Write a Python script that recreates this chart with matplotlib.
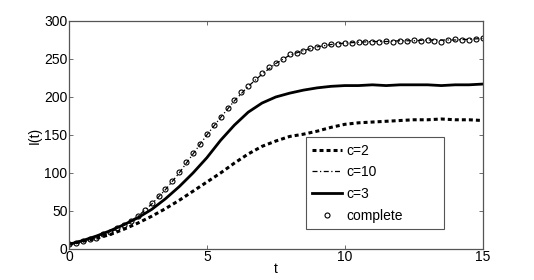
import numpy as np
import matplotlib
matplotlib.use("Agg")
from matplotlib import pyplot as plt

# line samples every 0.5 in t
t_line = np.arange(0, 15.01, 0.5)
c2 = [6, 10, 14, 19, 26, 34, 43, 53, 64, 76, 88, 100, 113, 125, 135, 142,
      148, 151, 155, 160, 164, 166, 167, 168, 169, 170, 170, 171, 170, 170, 169]
c10 = [6, 10, 15, 22, 31, 43, 59, 78, 100, 125, 150, 173, 195, 214, 230, 244,
       255, 261, 266, 269, 271, 272, 273, 273, 274, 274, 275, 275, 275, 276, 277]
c3 = [6, 11, 17, 24, 32, 41, 52, 66, 82, 100, 120, 143, 163, 180, 192, 200,
      205, 209, 212, 214, 215, 215, 216, 215, 216, 216, 216, 215, 216, 216, 217]

# complete graph, sampled every 0.25
t_comp = np.arange(0, 15.01, 0.25)
complete = [6, 8, 10, 13, 15, 19, 22, 27, 31,
            37, 43, 51, 60, 69, 79, 90, 101,
            114, 126, 138, 151, 163, 174, 186, 196,
            206, 215, 223, 231, 239, 245, 250, 256,
            258, 261, 264, 266, 268, 270, 270, 271,
            271, 272, 272, 273, 273, 274, 273, 274,
            274, 275, 274, 275, 274, 273, 275, 276,
            275, 275, 276, 277]

xticks = [0, 5, 10, 15]
yticks = [0, 50, 100, 150, 200, 250, 300]

plt.rcParams["font.family"] = ["Liberation Sans", "DejaVu Sans"]
plt.rcParams["font.size"] = 10

fig = plt.figure(figsize=(5.34, 2.8), dpi=100)
ax = fig.add_axes([0.129, 0.111, 0.775, 0.814])

ax.plot(t_line, c2, color="black", lw=2.2, linestyle=(0, (1.3, 1.0)), label="c=2")
ax.plot(t_line, c10, color="black", lw=0.9, linestyle=(0, (4, 2, 1, 2)), label="c=10")
ax.plot(t_line, c3, color="black", lw=2.0, label="c=3")
ax.plot(t_comp, complete, linestyle="none", marker="o", markersize=3.6,
        markerfacecolor="none", markeredgecolor="black", markeredgewidth=0.8,
        label="complete")

ax.set_xlim(0, 15)
ax.set_ylim(0, 300)
ax.set_xticks(xticks)
ax.set_yticks(yticks)
ax.tick_params(direction="in", top=True, right=True, length=3, width=0.6,
               color="#555555", labelsize=10, pad=1)
for side in ["left", "right", "top", "bottom"]:
    ax.spines[side].set_color("#555555")
    ax.spines[side].set_linewidth(0.9)

ax.set_xlabel("t", fontsize=10, labelpad=-2)
ax.set_ylabel("I(t)", fontsize=10, labelpad=2)

# MATLAB-style legend box, wider than its contents
leg = ax.legend(loc="lower left", bbox_to_anchor=(0.572, 0.088, 0.334, 0.377),
                mode="expand", fancybox=False, edgecolor="#555555", framealpha=1,
                handlelength=2.2, handletextpad=0.3, labelspacing=0.55,
                borderpad=0.45, fontsize=10, borderaxespad=0)
leg.get_frame().set_linewidth(0.8)

plt.savefig("out.png", dpi=100)
